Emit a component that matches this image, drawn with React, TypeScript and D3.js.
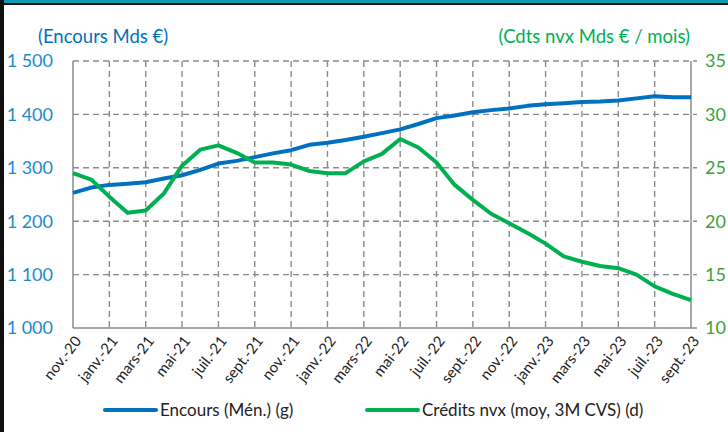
import { useEffect, useRef } from "react";
import * as d3 from "d3";

// monthly, nov.-20 .. sept.-23
const MONTHS = [
  "nov.-20", "déc.-20", "janv.-21", "févr.-21", "mars-21", "avr.-21", "mai-21", "juin-21",
  "juil.-21", "août-21", "sept.-21", "oct.-21", "nov.-21", "déc.-21", "janv.-22", "févr.-22",
  "mars-22", "avr.-22", "mai-22", "juin-22", "juil.-22", "août-22", "sept.-22", "oct.-22",
  "nov.-22", "déc.-22", "janv.-23", "févr.-23", "mars-23", "avr.-23", "mai-23", "juin-23",
  "juil.-23", "août-23", "sept.-23",
];

// Encours (Mén.) - left axis, Mds €
const ENCOURS = [
  1253, 1263, 1268, 1270, 1273, 1280, 1286, 1296, 1308, 1313,
  1320, 1327, 1333, 1343, 1347, 1352, 1358, 1365, 1372, 1382,
  1393, 1398, 1404, 1408, 1411, 1416, 1419, 1421, 1423, 1424,
  1426, 1430, 1434, 1432, 1432,
];

// Crédits nvx (moy, 3M CVS) - right axis, Mds € / mois
const CREDITS = [
  24.5, 23.9, 22.3, 20.8, 21.0, 22.6, 25.2, 26.7, 27.1, 26.4,
  25.5, 25.5, 25.3, 24.7, 24.5, 24.5, 25.6, 26.3, 27.7, 26.9,
  25.5, 23.4, 22.0, 20.7, 19.8, 18.9, 17.9, 16.7, 16.2, 15.8,
  15.6, 15.0, 13.9, 13.2, 12.6,
];

const LEFT_TICKS = [1000, 1100, 1200, 1300, 1400, 1500];
const RIGHT_TICKS = [10, 15, 20, 25, 30, 35];

const BLUE = "#0070C0";
const GREEN = "#00B050";
const FONT = "Lato, 'Open Sans', sans-serif";

export default function App() {
  const svgRef = useRef<SVGSVGElement>(null);

  useEffect(() => {
    if (!svgRef.current) return;
    const svg = d3.select(svgRef.current);
    svg.selectAll("*").remove();

    const W = 728, H = 432;
    const margin = { top: 61, right: 37, bottom: 104, left: 73 };
    const width = W - margin.left - margin.right;
    const height = H - margin.top - margin.bottom;

    svg.attr("width", W).attr("height", H);

    // frame
    svg.append("rect").attr("width", W).attr("height", H).attr("fill", "#fff");
    svg.append("rect").attr("x", 0).attr("y", 0).attr("width", W).attr("height", 3).attr("fill", "#0a9bb0");
    svg.append("rect").attr("x", 0).attr("y", 3).attr("width", W).attr("height", 2).attr("fill", "#111");
    svg.append("rect").attr("x", 0).attr("y", 0).attr("width", 4).attr("height", H).attr("fill", "#111");

    const g = svg.append("g").attr("transform", `translate(${margin.left},${margin.top})`);

    const x = d3.scalePoint<string>().domain(MONTHS).range([0, width]);
    const yL = d3.scaleLinear().domain([1000, 1500]).range([height, 0]);
    const yR = d3.scaleLinear().domain([10, 35]).range([height, 0]);

    const labelled = MONTHS.filter((_, i) => i % 2 === 0);

    // horizontal grid
    g.append("g")
      .selectAll("line")
      .data(LEFT_TICKS.slice(1))
      .enter()
      .append("line")
      .attr("x1", 0)
      .attr("x2", width + 6)
      .attr("y1", d => yL(d))
      .attr("y2", d => yL(d))
      .attr("stroke", "#8a8a8a")
      .attr("stroke-width", 1.4)
      .attr("stroke-dasharray", "6,4");

    // vertical grid
    g.append("g")
      .selectAll("line")
      .data(labelled.slice(1, -1))
      .enter()
      .append("line")
      .attr("x1", d => x(d)!)
      .attr("x2", d => x(d)!)
      .attr("y1", 0)
      .attr("y2", height)
      .attr("stroke", "#8a8a8a")
      .attr("stroke-width", 1.4)
      .attr("stroke-dasharray", "6,4");

    // axis lines
    const axisColor = "#8a8a8a";
    g.append("line").attr("x1", 0).attr("x2", 0).attr("y1", 0).attr("y2", height)
      .attr("stroke", axisColor).attr("stroke-width", 1.5);
    g.append("line").attr("x1", width).attr("x2", width).attr("y1", 0).attr("y2", height)
      .attr("stroke", axisColor).attr("stroke-width", 1.5);
    g.append("line").attr("x1", 0).attr("x2", width + 6).attr("y1", height).attr("y2", height)
      .attr("stroke", axisColor).attr("stroke-width", 1.5);

    // left tick labels
    g.append("g")
      .selectAll("text")
      .data(LEFT_TICKS)
      .enter()
      .append("text")
      .attr("x", -20)
      .attr("y", d => yL(d))
      .attr("dy", "0.35em")
      .attr("text-anchor", "end")
      .attr("fill", "#1a8ad0")
      .style("font-family", FONT)
      .style("font-size", "18px")
      .text(d => d3.format(",")(d).replace(",", " "));

    // right tick labels
    g.append("g")
      .selectAll("text")
      .data(RIGHT_TICKS)
      .enter()
      .append("text")
      .attr("x", width + 14)
      .attr("y", d => yR(d))
      .attr("dy", "0.35em")
      .attr("text-anchor", "start")
      .attr("fill", "#3aa13a")
      .style("font-family", FONT)
      .style("font-size", "18px")
      .text(d => d);

    // x labels
    g.append("g")
      .selectAll("text")
      .data(labelled)
      .enter()
      .append("text")
      .attr("transform", d => `translate(${x(d)! + 5},${height + 10}) rotate(-52)`)
      .attr("text-anchor", "end")
      .attr("dy", "0.35em")
      .attr("fill", "#222")
      .style("font-family", FONT)
      .style("font-size", "15px")
      .text(d => d);

    // axis titles
    svg.append("text")
      .attr("x", 38).attr("y", 37).attr("dy", "0.35em")
      .attr("fill", BLUE)
      .style("font-family", FONT).style("font-size", "18.5px")
      .text("(Encours Mds €)");
    svg.append("text")
      .attr("x", 690).attr("y", 37).attr("dy", "0.35em")
      .attr("text-anchor", "end")
      .attr("fill", GREEN)
      .style("font-family", FONT).style("font-size", "18.5px")
      .text("(Cdts nvx Mds € / mois)");

    // lines
    const lineL = d3.line<number>().x((_, i) => x(MONTHS[i])!).y(d => yL(d));
    const lineR = d3.line<number>().x((_, i) => x(MONTHS[i])!).y(d => yR(d));

    g.append("path").datum(ENCOURS)
      .attr("fill", "none").attr("stroke", BLUE).attr("stroke-width", 4)
      .attr("stroke-linejoin", "round").attr("d", lineL);
    g.append("path").datum(CREDITS)
      .attr("fill", "none").attr("stroke", GREEN).attr("stroke-width", 4)
      .attr("stroke-linejoin", "round").attr("d", lineR);

    // legend
    const legendItems = [
      { label: "Encours (Mén.) (g)", color: BLUE, x: 105 },
      { label: "Crédits nvx (moy, 3M CVS) (d)", color: GREEN, x: 367 },
    ];
    const legend = svg.append("g")
      .selectAll("g")
      .data(legendItems)
      .enter()
      .append("g")
      .attr("transform", d => `translate(${d.x},410)`);
    legend.append("line")
      .attr("x1", 0).attr("x2", 51).attr("y1", 0).attr("y2", 0)
      .attr("stroke", d => d.color).attr("stroke-width", 4).attr("stroke-linecap", "round");
    legend.append("text")
      .attr("x", 55).attr("y", 0).attr("dy", "0.35em")
      .attr("fill", "#222")
      .style("font-family", FONT).style("font-size", "17px")
      .text(d => d.label);
  }, []);

  return (
    <svg ref={svgRef} style={{ position: "absolute", left: 0, top: 0, display: "block" }} />
  );
}
